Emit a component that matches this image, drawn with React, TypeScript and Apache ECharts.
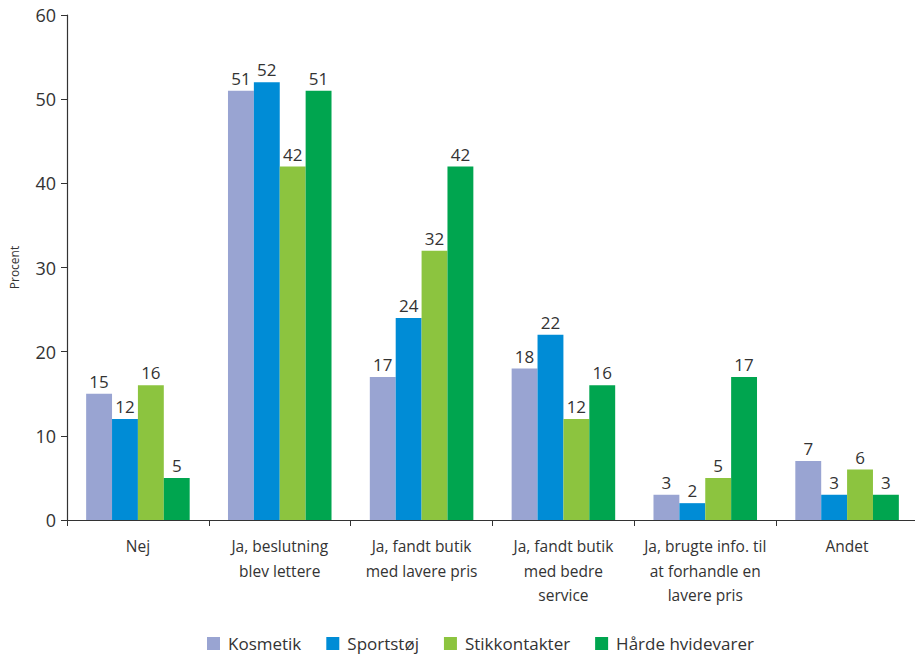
import React, { useEffect, useRef } from "react";
import * as echarts from "echarts";

const categories = [
  "Nej",
  "Ja, beslutning\nblev lettere",
  "Ja, fandt butik\nmed lavere pris",
  "Ja, fandt butik\nmed bedre\nservice",
  "Ja, brugte info. til\nat forhandle en\nlavere pris",
  "Andet",
];
const seriesNames = ["Kosmetik", "Sportstøj", "Stikkontakter", "Hårde hvidevarer"];
const kosmetik = [15, 51, 17, 18, 3, 7];
const sportstoj = [12, 52, 24, 22, 2, 3];
const stikkontakter = [16, 42, 32, 12, 5, 6];
const hardeHvidevarer = [5, 51, 42, 16, 17, 3];
const colors = ["#99A4D2", "#008CD6", "#8CC43F", "#00A54F"];

const FONT = "'Open Sans', 'Noto Sans', sans-serif";

export default function App() {
  const ref = useRef<HTMLDivElement>(null);
  useEffect(() => {
    if (!ref.current) return;
    const chart = echarts.init(ref.current, undefined, { renderer: "svg" });
    const values = [kosmetik, sportstoj, stikkontakter, hardeHvidevarer];
    chart.setOption({
      animation: false,
      textStyle: { fontFamily: FONT },
      grid: {
        left: 67,
        right: -3,
        top: 15,
        bottom: 134,
        containLabel: false,
        outerBoundsMode: "none",
      },
      legend: {
        top: 635,
        left: 207,
        padding: 0,
        itemWidth: 13,
        itemHeight: 13,
        itemGap: 25,
        icon: "rect",
        textStyle: { fontSize: 17, color: "#333", fontFamily: FONT, padding: [0, 0, 0, 3] },
        data: seriesNames,
      },
      xAxis: {
        type: "category",
        data: categories,
        axisLine: { lineStyle: { color: "#333", width: 1.2 } },
        axisTick: { show: true, length: 6, lineStyle: { color: "#333" }, alignWithLabel: false },
        axisLabel: {
          color: "#333",
          fontSize: 15.5,
          lineHeight: 24.5,
          margin: 14,
          interval: 0,
          fontFamily: FONT,
        },
      },
      yAxis: {
        type: "value",
        min: 0,
        max: 60,
        interval: 10,
        name: "Procent",
        nameLocation: "middle",
        nameGap: 47,
        nameRotate: 90,
        nameTextStyle: { fontSize: 12, color: "#333", fontFamily: FONT },
        axisLine: { show: true, lineStyle: { color: "#333", width: 1.2 } },
        axisTick: { show: true, length: 6, lineStyle: { color: "#333" } },
        splitLine: { show: false },
        axisLabel: { color: "#333", fontSize: 18, margin: 11, fontFamily: FONT },
      },
      series: seriesNames.map((name, i) => ({
        name,
        type: "bar",
        data: values[i],
        barGap: "0%",
        barCategoryGap: "27%",
        itemStyle: { color: colors[i] },
        label: {
          show: true,
          position: "top",
          distance: 4,
          color: "#333",
          fontSize: 17,
          fontFamily: FONT,
        },
      })),
    });
    return () => chart.dispose();
  }, []);
  return <div ref={ref} style={{ width: 915, height: 654, position: "absolute", left: 0, top: 0 }} />;
}
